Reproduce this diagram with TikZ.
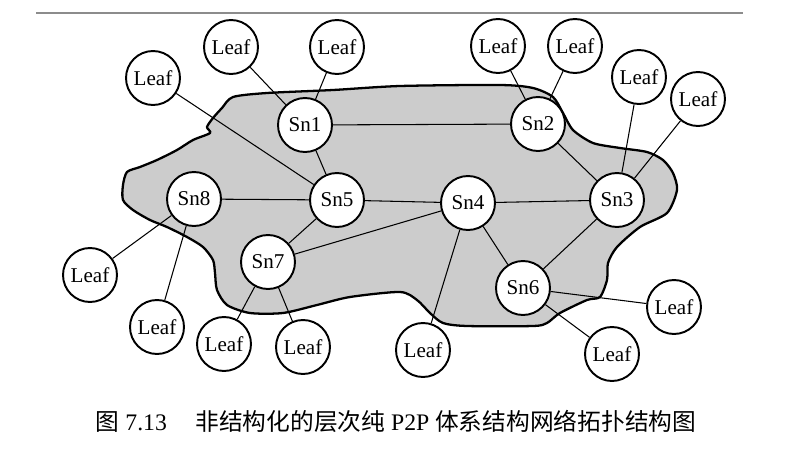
\documentclass[tikz,border=0pt]{standalone}
\usepackage{fontspec}
\setmainfont{Liberation Serif}
\newfontfamily\cjk{Noto Sans CJK SC}
\begin{document}
\begin{tikzpicture}[x=0.02cm,y=-0.02cm,
  peer/.style={circle,draw,line width=1.1pt,fill=white,minimum size=1.08cm,inner sep=0pt,font=\fontsize{12}{13}\selectfont},
  link/.style={line width=0.6pt}]
  \useasboundingbox (0,0) rectangle (796,450);
  % rule at the top of the page
  \draw[black!45,line width=0.6pt] (36,13) -- (743,13);
  % ---------- the shaded cluster ----------
  \draw[fill=black!20,line width=1.3pt] plot[smooth cycle,tension=0.45] coordinates {
    (233,97) (267,93) (333,90) (400,86) (500,85) (533,88) (553,97) (563,113) (573,130)
    (593,143) (620,148) (647,152) (663,160) (673,173) (677,190) (667,213) (640,227)
    (617,247) (608,263) (607,280) (600,297) (587,300) (560,313) (547,323) (533,326)
    (467,326) (443,323) (430,313) (417,300) (400,292) (350,297) (317,305) (283,313)
    (250,313) (227,305) (217,290) (215,273) (213,260) (203,247) (187,237) (167,227)
    (150,220) (133,210) (123,200) (123,185) (127,172) (140,167) (157,160) (177,150)
    (193,140) (210,133) (207,127) (213,118) (222,108)};
  % ---------- super nodes ----------
  \foreach \n/\x/\y in {1/305/125,2/538/124,3/617/200,4/468/203,5/337/200,6/523/288,7/268/262,8/194/199}
    \node[peer] (sn\n) at (\x,\y) {Sn\n};
  % ---------- leaves ----------
  \foreach \n/\x/\y in {a/153/78,b/231/47,c/337/47,d/498/46,e/575/46,f/639/77,g/698/99,
                        h/90/275,i/157/327,j/224/344,k/303/347,l/423/350,m/612/354,n/674/307}
    \node[peer] (leaf\n) at (\x,\y) {Leaf};
  % ---------- links ----------
  \foreach \a/\b in {sn1/sn2,sn1/sn5,sn8/sn5,sn5/sn4,sn4/sn3,sn2/sn3,sn5/sn7,sn7/sn4,sn4/sn6,sn6/sn3,
                     leafa/sn5,leafb/sn1,leafc/sn1,leafd/sn2,leafe/sn2,leaff/sn3,leafg/sn3,
                     leafh/sn8,leafi/sn8,leafj/sn7,leafk/sn7,leafl/sn4,leafm/sn6,leafn/sn6}
    \draw[link] (\a) -- (\b);
  % caption
  \node[font=\fontsize{13.5}{15}\selectfont] (caption) at (396,421)
    {{\cjk 图}~7.13\hspace{1.2em}{\cjk 非结构化的层次纯}~P2P~{\cjk 体系结构网络拓扑结构图}};
\end{tikzpicture}
\end{document}
